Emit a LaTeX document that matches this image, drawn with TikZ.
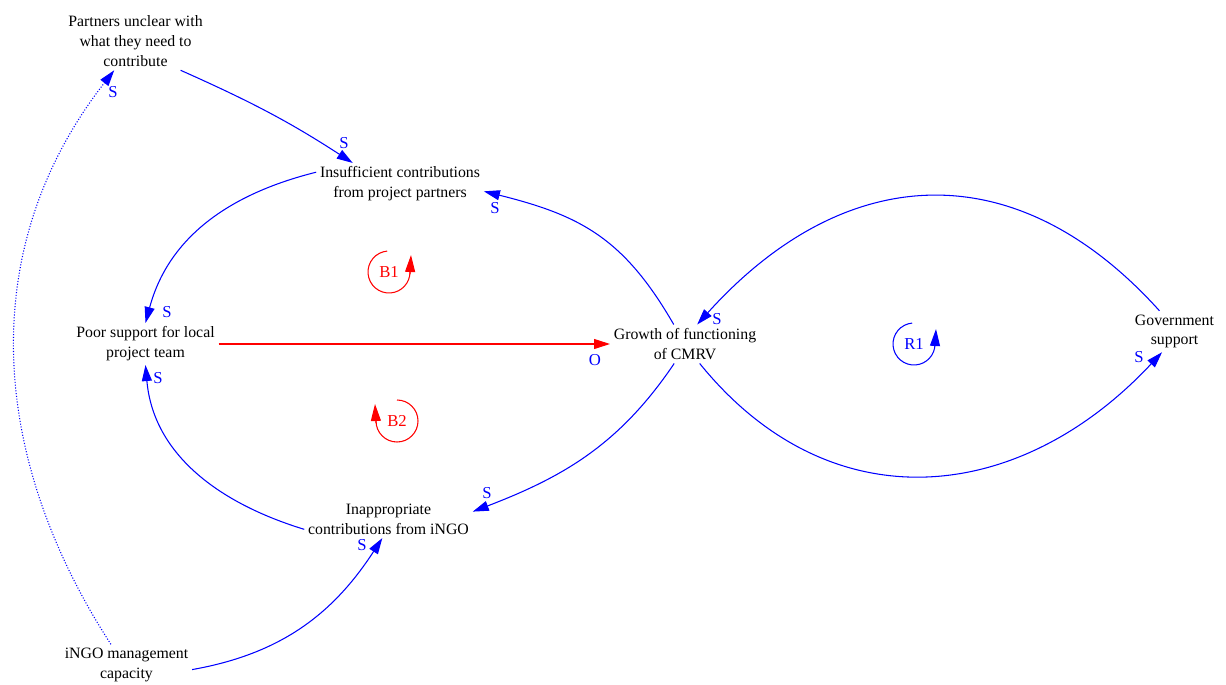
\documentclass[tikz,border=0pt]{standalone}
\usepackage{fontspec}
\setmainfont{Liberation Serif}
\usetikzlibrary{arrows.meta}

\begin{document}
\begin{tikzpicture}[x=0.02cm, y=0.02cm, font=\fontsize{9}{11.3}\selectfont,
  var/.style={align=center, inner sep=2pt},
  link/.style={blue, line width=0.6pt, -{Triangle[length=0.32cm,width=0.2cm]}},
  pol/.style={blue, inner sep=0pt, font=\fontsize{9.5}{11}\selectfont},
  looplabel/.style={inner sep=0pt, font=\fontsize{9.5}{11}\selectfont},
  looptip/.style={line width=0.6pt, -{Triangle[length=0.34cm,width=0.2cm]}}]
  \useasboundingbox (0,0) rectangle (1226,684);
  % === Variables ===
  \node[var] (part)  at (135.5,643) {Partners unclear with\\what they need to\\contribute};
  \node[var] (ins)   at (400,500)   {Insufficient contributions\\from project partners};
  \node[var] (poor)  at (145.5,340) {Poor support for local\\project team};
  \node[var] (grow)  at (685,340)   {Growth of functioning\\of CMRV};
  \node[var] (gov)   at (1174.5,352.5) {Government\\support};
  \node[var] (inapp) at (388.5,165) {Inappropriate\\contributions from iNGO};
  \node[var] (ingo)  at (126.5,19)  {iNGO management\\capacity};
  % === Links ===
  \draw[link] (part.-33) to[out=-24, in=147] (ins.156);
  \draw[link] (grow.120) to[out=120, in=-14, looseness=1.1] (ins.-5);
  \draw[link] (ins.172) to[out=194, in=75] (poor.north);
  \draw[link, red] (poor.east) -- (grow.west);
  \draw[link] (grow.-119) to[out=236, in=21] (inapp.5);
  \draw[link] (inapp.187) to[out=163, in=-85] (poor.south);
  \draw[link] (ingo.-4) to[out=10, in=-123] (inapp.-108);
  \draw[link, densely dotted] (ingo.127) to[out=123, in=-128] (part.-126);
  \draw[link] (grow.-53) to[out=-51, in=-133, looseness=1.15] (gov.-121);
  \draw[link] (gov.126) to[out=132, in=48, looseness=1.2] (grow.58);
  % === Polarities ===
  \node[pol] (sPartIns) at (344,541) {S};
  \node[pol] (sGrowIns) at (495,476) {S};
  \node[pol] (sInsPoor) at (167,372) {S};
  \node[pol] (oPoorGrow) at (595,324) {O};
  \node[pol] (sGrowInapp) at (487,191) {S};
  \node[pol] (sInappPoor) at (158,306) {S};
  \node[pol] (sIngoInapp) at (362,139) {S};
  \node[pol] (sIngoPart) at (113,592) {S};
  \node[pol] (sGrowGov) at (1139,327) {S};
  \node[pol] (sGovGrow) at (717,365) {S};
  % === Loops ===
  \node[looplabel, red] (b1) at (389,412) {B1};
  \draw[red, line width=0.6pt] (b1.center) ++(95:21) arc[start angle=95, end angle=360, radius=21];
  \draw[looptip, red] (b1.center) ++(21,-2) -- ++(1,19);
  \node[looplabel, red] (b2) at (397,263) {B2};
  \draw[red, line width=0.6pt] (b2.center) ++(90:21) arc[start angle=90, end angle=-180, radius=21];
  \draw[looptip, red] (b2.center) ++(-21,-2) -- ++(-1,19);
  \node[looplabel, blue] (r1) at (914,340) {R1};
  \draw[blue, line width=0.6pt] (r1.center) ++(95:21) arc[start angle=95, end angle=360, radius=21];
  \draw[looptip, blue] (r1.center) ++(21,-2) -- ++(1,17);
\end{tikzpicture}
\end{document}
